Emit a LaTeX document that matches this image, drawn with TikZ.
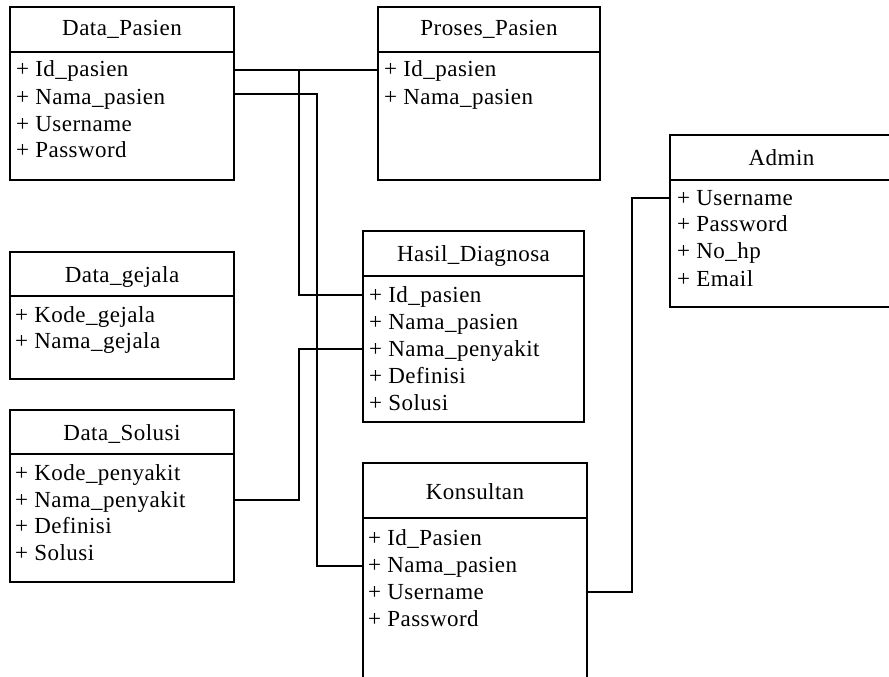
\documentclass[tikz,border=0pt]{standalone}
\usepackage{fontspec}
\setmainfont{Liberation Serif}[LetterSpace=2]
\usetikzlibrary{calc}
\begin{document}
\begin{tikzpicture}[x=1pt,y=-1pt,
  tbl/.style={draw, line width=1.6pt, rectangle, inner sep=0pt, outer sep=0pt, anchor=north west},
  rule/.style={line width=1.6pt},
  title/.style={anchor=base, inner sep=0pt, font=\fontsize{23}{27}\selectfont},
  attr/.style={anchor=base west, inner sep=0pt, text height=14pt, text depth=0pt, font=\fontsize{23}{27}\selectfont},
  link/.style={line width=1.6pt}]

\useasboundingbox (0,0) rectangle (889,677);
\fill[white] (0,0) rectangle (889,677);
\clip (0,0) rectangle (889,677);

% class box: name, left, top, width, height, header height
\newcommand\classbox[6]{%
  \node[tbl, minimum width=#4pt, minimum height=#5pt] (#1) at (#2,#3) {};
  \draw[rule] ($(#1.north west)+(0,#6)$) -- ($(#1.north east)+(0,#6)$);
}

% ---- tables ----
\classbox{dp}{10}{7}{224}{173}{45}
\node[title] (dp-t) at (122,36) {Data\_Pasien};
\node[attr] (dp-id)   at (16,77)  {+ Id\_pasien};
\node[attr] (dp-nama) at (16,104) {+ Nama\_pasien};
\node[attr] (dp-user) at (16,131) {+ Username};
\node[attr] (dp-pass) at (16,157) {+ Password};

\classbox{pp}{378}{7}{222}{173}{45}
\node[title] (pp-t) at (489,36) {Proses\_Pasien};
\node[attr] (pp-id)   at (384,77)  {+ Id\_pasien};
\node[attr] (pp-nama) at (384,104) {+ Nama\_pasien};

\classbox{ad}{670}{135}{223}{172}{45}
\node[title] (ad-t) at (781.5,165) {Admin};
\node[attr] (ad-user) at (677,205) {+ Username};
\node[attr] (ad-pass) at (677,231) {+ Password};
\node[attr] (ad-hp)   at (677,258) {+ No\_hp};
\node[attr] (ad-mail) at (677,286) {+ Email};

\classbox{dg}{10}{252}{224}{127}{44}
\node[title] (dg-t) at (122,282) {Data\_gejala};
\node[attr] (dg-kode) at (15,322) {+ Kode\_gejala};
\node[attr] (dg-nama) at (15,348) {+ Nama\_gejala};

\classbox{hd}{363}{231}{221}{191}{45}
\node[title] (hd-t) at (473.5,261) {Hasil\_Diagnosa};
\node[attr] (hd-id)   at (369,302) {+ Id\_pasien};
\node[attr] (hd-nama) at (369,329) {+ Nama\_pasien};
\node[attr] (hd-pen)  at (369,356) {+ Nama\_penyakit};
\node[attr] (hd-def)  at (369,383) {+ Definisi};
\node[attr] (hd-sol)  at (369,410) {+ Solusi};

\classbox{ds}{10}{410}{224}{172}{44}
\node[title] (ds-t) at (122,440) {Data\_Solusi};
\node[attr] (ds-kode) at (15,480) {+ Kode\_penyakit};
\node[attr] (ds-nama) at (15,507) {+ Nama\_penyakit};
\node[attr] (ds-def)  at (15,533) {+ Definisi};
\node[attr] (ds-sol)  at (15,560) {+ Solusi};

\classbox{ks}{363}{463}{224}{240}{55}
\node[title] (ks-t) at (475,499) {Konsultan};
\node[attr] (ks-id)   at (368,545) {+ Id\_Pasien};
\node[attr] (ks-nama) at (368,572) {+ Nama\_pasien};
\node[attr] (ks-user) at (368,599) {+ Username};
\node[attr] (ks-pass) at (368,626) {+ Password};

% ---- vertical routing lanes ----
\coordinate (laneA) at (299,0);
\coordinate (laneB) at (317,0);
\coordinate (laneC) at (632,0);

% ---- relations ----
\draw[link] (dp.east |- dp-id) -- (pp.west |- dp-id);
\draw[link] (dp.east |- dp-id) -| (laneA |- hd-id) -- (hd.west |- hd-id);
\draw[link] ([yshift=3pt]dp.east |- dp-nama) -| ([yshift=-1pt]laneB |- ks-nama) -- ([yshift=-1pt]ks.west |- ks-nama);
\draw[link] (ds.east |- ds-nama) -| (laneA |- hd-pen) -- (hd.west |- hd-pen);
\draw[link] (ks.east |- ks-user) -| (laneC |- ad-user) -- (ad.west |- ad-user);

\end{tikzpicture}
\end{document}
